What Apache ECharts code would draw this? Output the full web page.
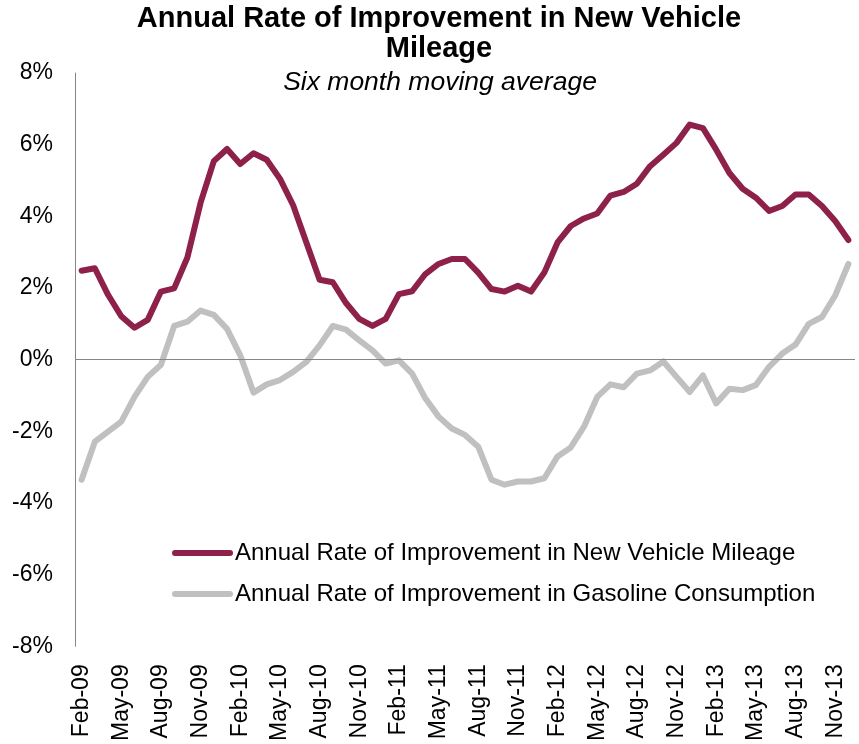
<!DOCTYPE html>
<html>
<head>
<meta charset="UTF-8">
<title>Annual Rate of Improvement in New Vehicle Mileage</title>
<style>
  html, body { margin: 0; padding: 0; background: #fff; }
  #chart { width: 859px; height: 744px; }
</style>
</head>
<body>
<div id="chart"></div>
<script src="https://cdn.jsdelivr.net/npm/echarts@6/dist/echarts.min.js"></script>
<script>
// monthly, Feb-09 .. Dec-13
var months = [
  'Feb-09', 'Mar-09', 'Apr-09', 'May-09', 'Jun-09', 'Jul-09', 'Aug-09', 'Sep-09', 'Oct-09', 'Nov-09', 'Dec-09',
  'Jan-10', 'Feb-10', 'Mar-10', 'Apr-10', 'May-10', 'Jun-10', 'Jul-10', 'Aug-10', 'Sep-10', 'Oct-10', 'Nov-10', 'Dec-10',
  'Jan-11', 'Feb-11', 'Mar-11', 'Apr-11', 'May-11', 'Jun-11', 'Jul-11', 'Aug-11', 'Sep-11', 'Oct-11', 'Nov-11', 'Dec-11',
  'Jan-12', 'Feb-12', 'Mar-12', 'Apr-12', 'May-12', 'Jun-12', 'Jul-12', 'Aug-12', 'Sep-12', 'Oct-12', 'Nov-12', 'Dec-12',
  'Jan-13', 'Feb-13', 'Mar-13', 'Apr-13', 'May-13', 'Jun-13', 'Jul-13', 'Aug-13', 'Sep-13', 'Oct-13', 'Nov-13', 'Dec-13'
];

// % per year, six month moving average
var mileage = [
  2.48, 2.55, 1.81, 1.21, 0.89, 1.11, 1.90, 1.99, 2.85, 4.38, 5.54,
  5.88, 5.46, 5.76, 5.58, 5.05, 4.31, 3.27, 2.23, 2.16, 1.58, 1.14, 0.94,
  1.14, 1.83, 1.91, 2.39, 2.67, 2.81, 2.81, 2.43, 1.97, 1.90, 2.06, 1.90,
  2.43, 3.27, 3.73, 3.94, 4.08, 4.58, 4.68, 4.91, 5.40, 5.72, 6.05, 6.56,
  6.46, 5.86, 5.21, 4.77, 4.52, 4.15, 4.29, 4.61, 4.61, 4.29, 3.87, 3.34
];
var gasoline = [
  -3.35, -2.29, -2.01, -1.73, -1.04, -0.48, -0.14, 0.94, 1.06, 1.37, 1.25,
  0.86, 0.12, -0.92, -0.69, -0.57, -0.34, -0.06, 0.40, 0.94, 0.84, 0.54, 0.26,
  -0.11, -0.02, -0.39, -1.08, -1.59, -1.92, -2.10, -2.43, -3.35, -3.49, -3.40, -3.40,
  -3.31, -2.70, -2.45, -1.87, -1.04, -0.69, -0.77, -0.39, -0.30, -0.05, -0.48, -0.90,
  -0.44, -1.22, -0.81, -0.85, -0.71, -0.20, 0.17, 0.42, 1.00, 1.19, 1.79, 2.67
];

var FONT = 'Liberation Sans, Arial, sans-serif';
var myChart = echarts.init(document.getElementById('chart'));

myChart.setOption({
  animation: false,
  textStyle: { fontFamily: FONT },
  graphic: [{
    type: 'text',
    x: 439, y: 4,
    style: {
      text: 'Annual Rate of Improvement in New Vehicle\nMileage',
      font: 'bold 29px ' + FONT,
      lineHeight: 30,
      textAlign: 'center',
      textVerticalAlign: 'top',
      fill: '#000'
    }
  }, {
    type: 'text',
    x: 440, y: 83,
    style: {
      text: 'Six month moving average',
      font: 'italic 26.5px ' + FONT,
      textAlign: 'center',
      textVerticalAlign: 'middle',
      fill: '#000'
    }
  }],
  legend: {
    orient: 'vertical',
    left: 167,
    top: 536,
    itemWidth: 55,
    itemHeight: 24,
    itemGap: 17,
    itemStyle: { opacity: 0 },
    lineStyle: { width: 6, cap: 'round' },
    textStyle: { fontSize: 24, color: '#000', fontFamily: FONT },
    data: ['Annual Rate of Improvement in New Vehicle Mileage', 'Annual Rate of Improvement in Gasoline Consumption']
  },
  grid: { left: 75, right: 4, top: 73, bottom: 95 },
  xAxis: {
    type: 'category',
    data: months,
    boundaryGap: true,
    axisLine: { show: false },
    axisTick: { show: false },
    axisLabel: {
      interval: 2,
      rotate: 90,
      margin: 18,
      fontSize: 23,
      color: '#000',
      fontFamily: FONT
    }
  },
  yAxis: {
    type: 'value',
    min: -8,
    max: 8,
    interval: 2,
    axisLine: { show: true, lineStyle: { color: '#868686', width: 1 } },
    axisTick: { show: false },
    splitLine: { show: false },
    axisLabel: {
      formatter: '{value}%',
      margin: 22,
      fontSize: 23,
      color: '#000',
      fontFamily: FONT
    }
  },
  series: [{
    name: 'Annual Rate of Improvement in New Vehicle Mileage',
    type: 'line',
    data: mileage,
    z: 3,
    showSymbol: false,
    symbol: 'none',
    color: '#8E2149',
    lineStyle: { width: 6, color: '#8E2149', cap: 'round', join: 'round' }
  }, {
    name: 'Annual Rate of Improvement in Gasoline Consumption',
    type: 'line',
    data: gasoline,
    z: 2,
    showSymbol: false,
    symbol: 'none',
    color: '#C0C0C0',
    lineStyle: { width: 6, color: '#C0C0C0', cap: 'round', join: 'round' },
    markLine: {
      silent: true,
      symbol: 'none',
      label: { show: false },
      lineStyle: { color: '#868686', width: 1, type: 'solid' },
      data: [{ yAxis: 0 }]
    }
  }]
});
</script>
</body>
</html>
